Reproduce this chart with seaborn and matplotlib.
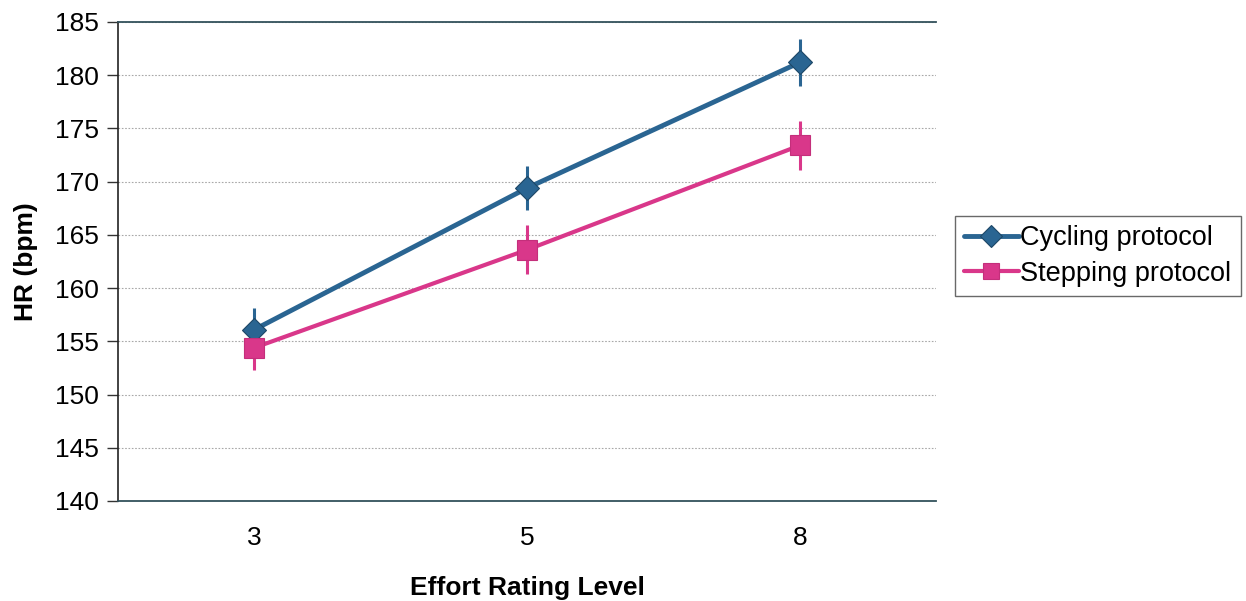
import numpy as np
import pandas as pd
import seaborn as sns
import matplotlib.pyplot as plt
from matplotlib.ticker import FixedLocator

# Data
effort_levels = ["3", "5", "8"]
cycling_hr = [156.1, 169.4, 181.2]
cycling_err = [2.0, 2.1, 2.2]
stepping_hr = [154.4, 163.6, 173.4]
stepping_err = [2.1, 2.3, 2.3]

sns.set_theme(style="white")
plt.rcParams['font.family'] = ['Liberation Sans', 'DejaVu Sans']
plt.rcParams.update({"text.color": "black", "axes.labelcolor": "black",
                     "xtick.color": "black", "ytick.color": "black"})

BLUE = "#2a6592"
PINK = "#d9378a"

df = pd.DataFrame({
    "level": effort_levels * 2,
    "pos": list(range(len(effort_levels))) * 2,
    "hr": cycling_hr + stepping_hr,
    "err": cycling_err + stepping_err,
    "protocol": ["Cycling protocol"] * 3 + ["Stepping protocol"] * 3,
})

fig = plt.figure(figsize=(12.46, 6.01), dpi=100)
ax = fig.add_axes([0.0947, 0.1664, 0.6566, 0.797])

style = {
    "Cycling protocol": dict(color=BLUE, marker="D", markersize=12, edge="#1d4766", lw=3.5),
    "Stepping protocol": dict(color=PINK, marker="s", markersize=15, edge="#c42f7b", lw=3.0),
}

for name, grp in df.groupby("protocol", sort=False):
    st = style[name]
    ax.errorbar(grp["pos"], grp["hr"], yerr=grp["err"], fmt="none",
                ecolor=st["color"], elinewidth=2.2, capsize=0, zorder=3)
    sns.lineplot(data=grp, x="pos", y="hr", color=st["color"], marker=st["marker"],
                 markersize=st["markersize"], markeredgecolor=st["edge"], markeredgewidth=0.8,
                 linewidth=st["lw"], label=name, ax=ax, zorder=4)

ax.set_xlim(-0.5, 2.5)
ax.set_ylim(140, 185)
ax.set_yticks(np.arange(140, 186, 5))
ax.set_xticks(range(len(effort_levels)))
ax.set_xticklabels(effort_levels)
ax.xaxis.set_minor_locator(FixedLocator([-0.5, 0.5, 1.5, 2.5]))
ax.tick_params(axis="x", which="major", length=0, labelsize=19, pad=18)
ax.tick_params(axis="x", which="minor", length=8, width=1, color="#333333", direction="out")
ax.tick_params(axis="y", length=8, width=1, color="#333333", direction="out", labelsize=19, left=True, pad=6)

ax.yaxis.grid(True, linestyle=(0, (1.5, 1.5)), color="#a8a8a8", linewidth=0.8)
ax.set_axisbelow(True)

ax.spines["left"].set_color("#222222")
ax.spines["left"].set_linewidth(1.2)
for s in ["top", "bottom"]:
    ax.spines[s].set_color("#33525c")
    ax.spines[s].set_linewidth(1.3)
ax.spines["right"].set_visible(False)

ax.set_xlabel("Effort Rating Level", fontsize=19, fontweight="bold", labelpad=19)
ax.set_ylabel("HR (bpm)", fontsize=19, fontweight="bold", labelpad=12)

handles, labels = ax.get_legend_handles_labels()
leg = ax.legend(handles, labels, loc="center left", bbox_to_anchor=(1.023, 0.511),
                fontsize=19.5, frameon=True, fancybox=False, edgecolor="#444444",
                handlelength=2.0, handletextpad=0.05, borderpad=0.35, labelspacing=0.35,
                borderaxespad=0)
leg.get_frame().set_linewidth(1.0)
for h in leg.legend_handles:
    h.set_markersize(11)

fig.savefig("out.png", dpi=100)
